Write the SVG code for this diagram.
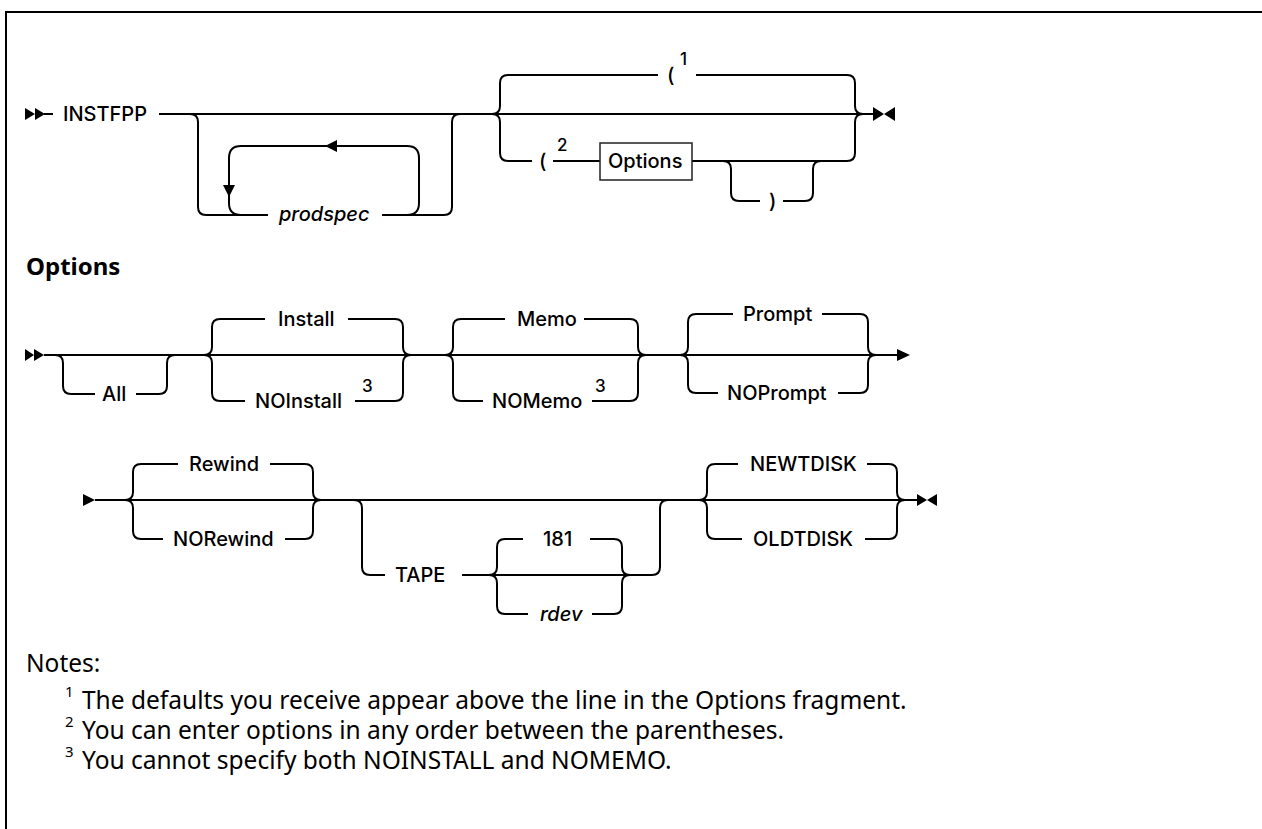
<svg xmlns="http://www.w3.org/2000/svg" width="1262" height="829" viewBox="0 0 1262 829">
<style>
.ln{fill:none;stroke:#000;stroke-width:2}
.ah{fill:#000;stroke:none}
.t{font-family:Inter,"Noto Sans","Liberation Sans",sans-serif;font-size:20px;font-weight:500;fill:#000}
.it{font-style:italic}
.sup{font-family:Inter,"Noto Sans","Liberation Sans",sans-serif;font-size:17px;font-weight:500;fill:#000}
.h{font-family:"Noto Sans","Liberation Sans",sans-serif;font-size:24px;font-weight:bold;fill:#000}
.n{font-family:"Noto Sans","Liberation Sans",sans-serif;font-size:24.5px;fill:#000}
.ns{font-family:"Noto Sans","Liberation Sans",sans-serif;font-size:15px;fill:#000}
.box{fill:#fff;stroke:#222;stroke-width:1.5}
</style>
<rect width="1262" height="829" fill="#fff"/>
<path class="ln" d="M6,829 V12 H1262"/>

<g id="connectors">
<!-- row 1 -->
<polygon class="ah" points="25,108 35,114 25,120"/>
<polygon class="ah" points="35,108 45,114 35,120"/>
<path class="ln" d="M44,114 H53"/>
<path class="ln" d="M159,114 H873"/>
<path class="ln" d="M190,114 Q198,114 198,122 V207 Q198,215 206,215 H268"/>
<path class="ln" d="M382,215 H444 Q452,215 452,207 V122 Q452,114 460,114"/>
<path class="ln" d="M241,215 Q229,215 229,203 V158 Q229,146 241,146 H407 Q419,146 419,158 V203 Q419,215 407,215"/>
<polygon class="ah" points="325,146 337,140 337,152"/>
<polygon class="ah" points="229,197 223,185 235,185"/>
<path class="ln" d="M492,114 Q500,114 500,106 V83 Q500,75 508,75 H658"/>
<path class="ln" d="M492,114 Q500,114 500,122 V153 Q500,161 508,161 H532"/>
<path class="ln" d="M696,75 H847 Q855,75 855,83 V106 Q855,114 863,114"/>
<path class="ln" d="M553,161 H600"/>
<path class="ln" d="M692,161 H847 Q855,161 855,153 V122 Q855,114 863,114"/>
<path class="ln" d="M723,161 Q731,161 731,169 V193 Q731,201 739,201 H760"/>
<path class="ln" d="M783,201 H805 Q813,201 813,193 V169 Q813,161 821,161"/>
<polygon class="ah" points="873,107 884,114 873,121"/>
<polygon class="ah" points="895,107 884,114 895,121"/>
<!-- row 2 -->
<polygon class="ah" points="25,349 34,355 25,361"/>
<polygon class="ah" points="34,349 44,355 34,361"/>
<path class="ln" d="M44,355 H897"/>
<path class="ln" d="M55,355 Q63,355 63,363 V386 Q63,394 71,394 H95"/>
<path class="ln" d="M136,394 H159 Q167,394 167,386 V363 Q167,355 175,355"/>
<path class="ln" d="M204,355 Q212,355 212,347 V327 Q212,319 220,319 H265"/>
<path class="ln" d="M348,319 H395 Q403,319 403,327 V347 Q403,355 411,355"/>
<path class="ln" d="M204,355 Q212,355 212,363 V393 Q212,401 220,401 H245"/>
<path class="ln" d="M355,401 H395 Q403,401 403,393 V363 Q403,355 411,355"/>
<path class="ln" d="M445,355 Q453,355 453,347 V327 Q453,319 461,319 H505"/>
<path class="ln" d="M584,319 H630 Q638,319 638,327 V347 Q638,355 646,355"/>
<path class="ln" d="M445,355 Q453,355 453,363 V393 Q453,401 461,401 H483"/>
<path class="ln" d="M592,401 H630 Q638,401 638,393 V363 Q638,355 646,355"/>
<path class="ln" d="M680,355 Q688,355 688,347 V322 Q688,314 696,314 H733"/>
<path class="ln" d="M822,314 H860 Q868,314 868,322 V347 Q868,355 876,355"/>
<path class="ln" d="M680,355 Q688,355 688,363 V385 Q688,393 696,393 H718"/>
<path class="ln" d="M838,393 H860 Q868,393 868,385 V363 Q868,355 876,355"/>
<polygon class="ah" points="897,349 910,355 897,361"/>
<!-- row 3 -->
<polygon class="ah" points="83,494 95,500 83,506"/>
<path class="ln" d="M95,500 H917"/>
<path class="ln" d="M125,500 Q133,500 133,492 V472 Q133,464 141,464 H178"/>
<path class="ln" d="M270,464 H305 Q313,464 313,472 V492 Q313,500 321,500"/>
<path class="ln" d="M125,500 Q133,500 133,508 V531 Q133,539 141,539 H163"/>
<path class="ln" d="M285,539 H305 Q313,539 313,531 V508 Q313,500 321,500"/>
<path class="ln" d="M354,500 Q362,500 362,508 V567 Q362,575 370,575 H385"/>
<path class="ln" d="M462,575 H652 Q660,575 660,567 V508 Q660,500 668,500"/>
<path class="ln" d="M489,575 Q497,575 497,567 V547 Q497,539 505,539 H523"/>
<path class="ln" d="M590,539 H614 Q622,539 622,547 V567 Q622,575 630,575"/>
<path class="ln" d="M489,575 Q497,575 497,583 V606 Q497,614 505,614 H528"/>
<path class="ln" d="M592,614 H614 Q622,614 622,606 V583 Q622,575 630,575"/>
<path class="ln" d="M699,500 Q707,500 707,492 V472 Q707,464 715,464 H738"/>
<path class="ln" d="M867,464 H889 Q897,464 897,472 V492 Q897,500 905,500"/>
<path class="ln" d="M699,500 Q707,500 707,508 V531 Q707,539 715,539 H742"/>
<path class="ln" d="M865,539 H889 Q897,539 897,531 V508 Q897,500 905,500"/>
<polygon class="ah" points="917,494 927,500 917,506"/>
<polygon class="ah" points="937,494 927,500 937,506"/>
</g>

<g id="instfpp"><text class="t" x="63" y="121">INSTFPP</text></g>
<g id="prodspec"><text class="t it" x="279" y="221">prodspec</text></g>
<g id="paren1"><text class="t" x="667" y="82">(</text><text class="sup" x="680" y="65">1</text></g>
<g id="paren2"><text class="t" x="539" y="168">(</text><text class="sup" x="557" y="151">2</text></g>
<g id="options-ref"><rect class="box" x="600" y="143" width="92" height="37"/><text class="t" x="608" y="168">Options</text></g>
<g id="rparen"><text class="t" x="769" y="208">)</text></g>

<g id="options-heading"><text class="h" x="26" y="275">Options</text></g>
<g id="all"><text class="t" x="102" y="401">All</text></g>
<g id="install"><text class="t" x="278" y="326">Install</text></g>
<g id="noinstall"><text class="t" x="255" y="408">NOInstall</text><text class="sup" x="362" y="392">3</text></g>
<g id="memo"><text class="t" x="517" y="326">Memo</text></g>
<g id="nomemo"><text class="t" x="492" y="408">NOMemo</text><text class="sup" x="595" y="392">3</text></g>
<g id="prompt"><text class="t" x="743" y="321">Prompt</text></g>
<g id="noprompt"><text class="t" x="727" y="400">NOPrompt</text></g>

<g id="rewind"><text class="t" x="189" y="471">Rewind</text></g>
<g id="norewind"><text class="t" x="173" y="546">NORewind</text></g>
<g id="tape"><text class="t" x="395" y="582">TAPE</text></g>
<g id="n181"><text class="t" x="543" y="546">181</text></g>
<g id="rdev"><text class="t it" x="540" y="621">rdev</text></g>
<g id="newtdisk"><text class="t" x="750" y="471">NEWTDISK</text></g>
<g id="oldtdisk"><text class="t" x="753" y="546">OLDTDISK</text></g>

<g id="notes">
<text class="n" x="26" y="672">Notes:</text>
<text class="ns" x="65" y="697">1</text><text class="n" x="82" y="709">The defaults you receive appear above the line in the Options fragment.</text>
<text class="ns" x="65" y="727">2</text><text class="n" x="82" y="739">You can enter options in any order between the parentheses.</text>
<text class="ns" x="65" y="757">3</text><text class="n" x="82" y="769">You cannot specify both NOINSTALL and NOMEMO.</text>
</g>
</svg>
